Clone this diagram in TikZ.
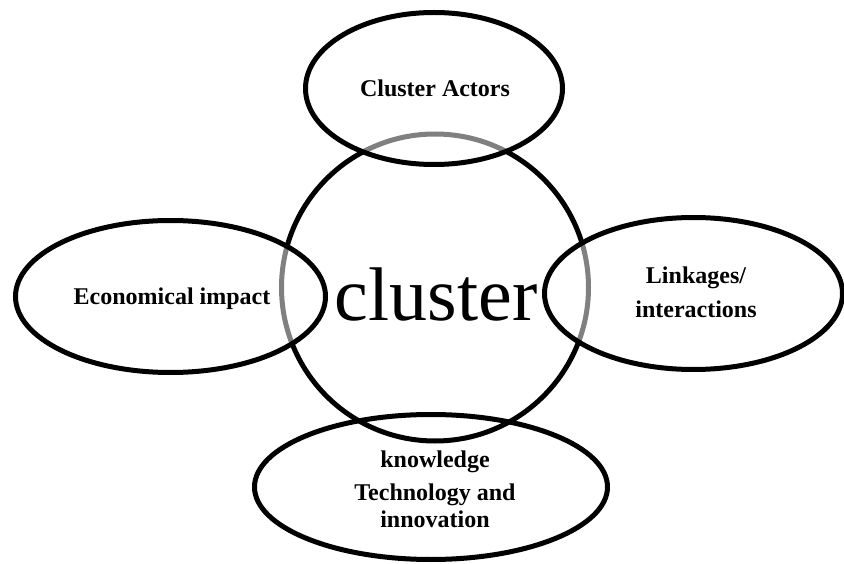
\documentclass[tikz,border=0pt]{standalone}
\usepackage{fontspec}
\setmainfont{Liberation Serif}
\usetikzlibrary{shapes.geometric}
\begin{document}
\begin{tikzpicture}[x=1pt,y=-1pt,
  ov/.style={ellipse, draw=black, line width=5pt, inner sep=0pt, outer sep=0pt},
  veil/.style={fill=white, fill opacity=0.5},
  lab/.style={font=\fontsize{24}{27}\selectfont\bfseries, align=center, inner sep=0pt, anchor=base}]
\useasboundingbox (0,0) rectangle (844,564);
\fill[white] (0,0) rectangle (844,564);
% bottom ellipse (under the circle)
\node[ov, minimum width=353pt, minimum height=145pt] (bot) at (431,487) {};
% central circle
\node[ov, minimum width=307pt, minimum height=307pt] (core) at (435,287.5) {};
\node[font=\fontsize{76}{80}\selectfont, inner sep=0pt, anchor=base] (coretxt) at (436,320) {cluster};
% veiled ellipses
\node[ov, veil, minimum width=257pt, minimum height=152pt] (top) at (434,88.5) {};
\node[ov, veil, minimum width=310pt, minimum height=152pt] (left) at (170.5,296.5) {};
\node[ov, veil, minimum width=298pt, minimum height=152pt] (right) at (693.5,293.5) {};
% labels
\node[lab] (toptxt) at (435,97) {Cluster Actors};
\node[lab] (lefttxt) at (172,305) {Economical impact};
\node[lab, font=\fontsize{24}{35}\selectfont\bfseries] (righttxt) at (696,318) {Linkages/\\interactions};
\node[lab] (bottxt) at (435,527) {knowledge\\[6pt]Technology and\\innovation};
\end{tikzpicture}
\end{document}
